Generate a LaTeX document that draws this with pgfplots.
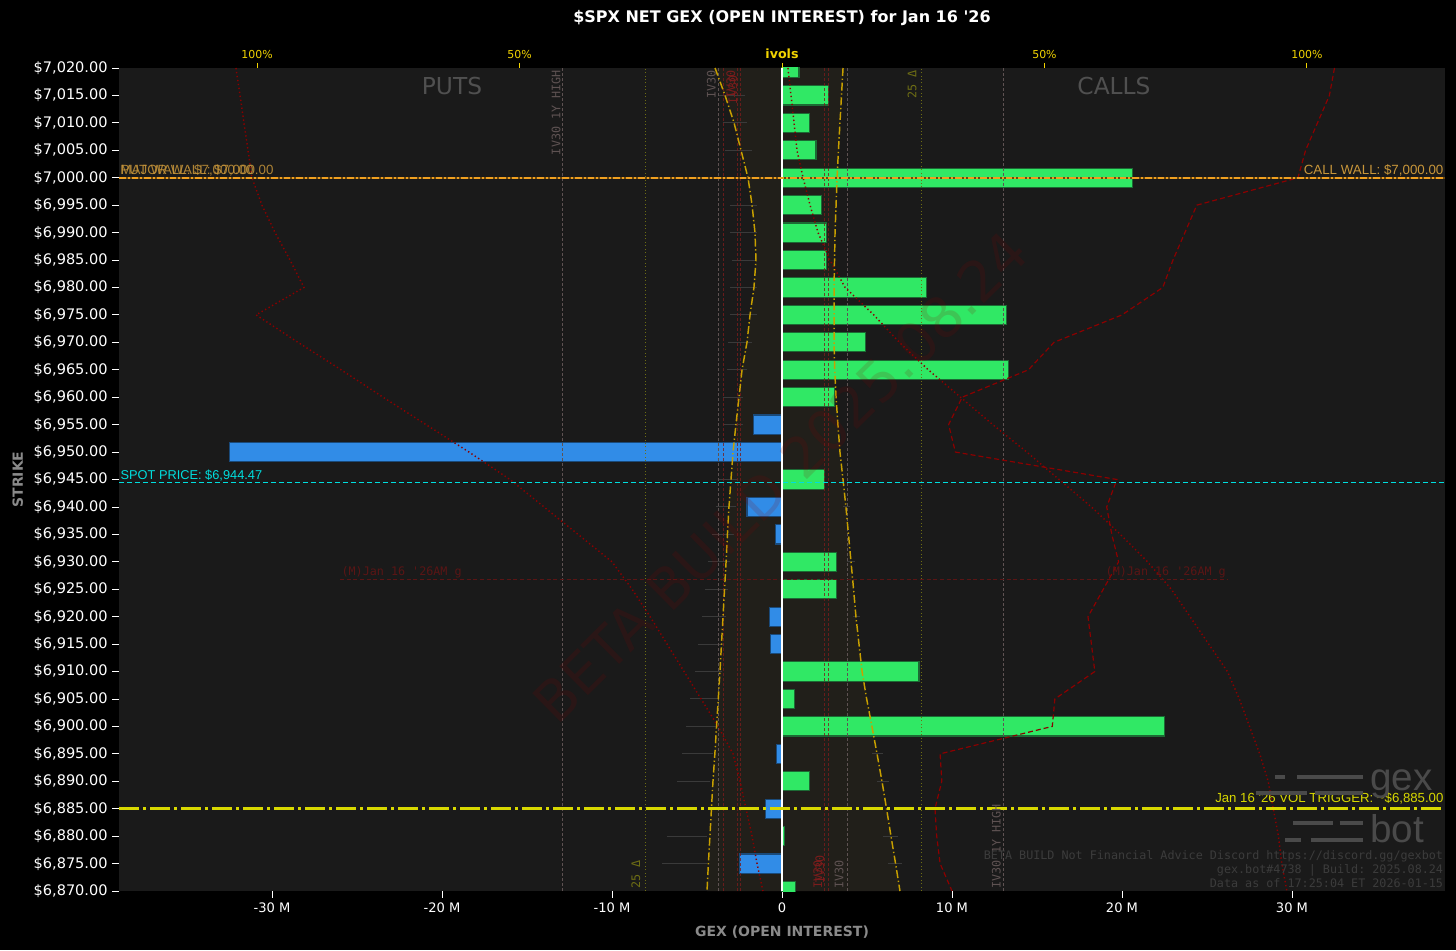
\documentclass[border=0pt]{standalone}
\usepackage{pgfplots}
\pgfplotsset{compat=1.18}
\usepackage{fontspec}
\setmainfont{DejaVu Sans}
\setmonofont{DejaVu Sans Mono}
\newfontfamily\arialfont{Liberation Sans}

\definecolor{plotbg}{HTML}{1A1A1A}
\definecolor{ivband}{HTML}{211F1A}
\definecolor{gexgreen}{HTML}{30E865}
\definecolor{greenedge}{HTML}{1C6A34}
\definecolor{gexblue}{HTML}{318CE7}
\definecolor{blueedge}{HTML}{1A4A7A}
\definecolor{wallorange}{HTML}{F0A020}
\definecolor{walltext}{HTML}{C8963A}
\definecolor{spotcyan}{HTML}{00DEDE}
\definecolor{trigyellow}{HTML}{D8D800}
\definecolor{ivyellow}{HTML}{C8A000}
\definecolor{topyellow}{HTML}{F2D400}
\definecolor{pctred}{HTML}{8B0000}
\definecolor{ivred}{HTML}{7A1C1C}
\definecolor{ivgray}{HTML}{5E5252}
\definecolor{deltaolive}{HTML}{6E6E14}
\definecolor{labelgray}{HTML}{8A8A8A}
\definecolor{sidegray}{HTML}{505050}
\definecolor{footgray}{HTML}{3C3C3C}
\definecolor{logogray}{HTML}{4A4A4A}
\definecolor{markred}{HTML}{5A1515}
\definecolor{tickgray}{HTML}{3A3A3A}

\pgfplotsset{/pgf/number format/assume math mode=true}

\begin{document}
\begin{tikzpicture}
\fill[black] (0,0) rectangle (1092pt,712.5pt);

\begin{axis}[
  at={(89.25pt,44.25pt)}, anchor=south west,
  width=994.5pt, height=617.25pt, scale only axis,
  xmin=-39, xmax=39, ymin=6870, ymax=7020,
  axis background/.style={fill=plotbg},
  axis x line*=bottom, axis y line*=left,
  axis line style={draw=none},
  tick align=outside, major tick length=5pt,
  tick style={white, line width=0.6pt},
  unbounded coords=jump,
  xtick={-30,-20,...,30},
  xticklabels={-30 M,-20 M,-10 M,0,10 M,20 M,30 M},
  ytick={6870,6875,...,7020},
  yticklabel={\$\pgfmathprintnumber[fixed,fixed zerofill,precision=2,1000 sep={,}]{\tick}},
  xticklabel style={text=white, font=\fontsize{9.8}{11}\selectfont},
  yticklabel style={text=white, font=\fontsize{10.9}{12}\selectfont},
  xlabel={GEX (OPEN INTEREST)},
  xlabel style={at={(axis description cs:0.5,0)}, anchor=center, yshift=-30.75pt,
    text=labelgray, font=\bfseries\fontsize{10.5}{12}\selectfont},
  ylabel={STRIKE},
  ylabel style={at={(axis description cs:0,0.5)}, anchor=center, yshift=76pt,
    text=labelgray, font=\bfseries\fontsize{10.5}{12}\selectfont},
  title={\$SPX NET GEX (OPEN INTEREST) for Jan 16 \textquotesingle 26},
  title style={at={(axis description cs:0.5,1)}, anchor=center, yshift=31.5pt,
    text=white, font=\bfseries\fontsize{12}{14}\selectfont},
]

% ivol band between the two smile curves
\addplot[fill=ivband, draw=none] coordinates {
(-3.94,7020) (-3.35,7015) (-2.82,7010) (-2.41,7005) (-2.00,7000) (-1.76,6995)
(-1.59,6990) (-1.53,6985) (-1.65,6980) (-1.88,6975) (-2.06,6970) (-2.35,6965)
(-2.53,6960) (-2.71,6955) (-2.88,6950) (-3.00,6945) (-3.12,6940) (-3.21,6935)
(-3.29,6930) (-3.38,6925) (-3.47,6920) (-3.56,6915) (-3.65,6910) (-3.75,6905)
(-3.85,6900) (-3.95,6895) (-4.06,6890) (-4.15,6885) (-4.24,6880) (-4.33,6875)
(-4.41,6870)
(6.94,6870) (6.68,6875) (6.41,6880) (6.15,6885) (5.88,6890) (5.59,6895)
(5.29,6900) (4.98,6905) (4.71,6910) (4.53,6915) (4.35,6920) (4.21,6925)
(4.06,6930) (3.91,6935) (3.76,6940) (3.59,6945) (3.41,6950) (3.29,6955)
(3.18,6960) (3.10,6965) (3.06,6970) (3.06,6975) (3.06,6980) (3.09,6985)
(3.12,6990) (3.18,6995) (3.24,7000) (3.32,7005) (3.41,7010) (3.50,7015)
(3.59,7020)} -- cycle;

% per-strike ivol markers
\addplot[tickgray, line width=0.75pt] coordinates {
(-3.76,7015) (-2.18,7015) (nan,nan) (-3.47,7010) (-2.06,7010) (nan,nan)
(-3.35,7005) (-1.76,7005) (nan,nan) (-3.06,6995) (-1.47,6995) (nan,nan)
(-3.06,6990) (-1.47,6990) (nan,nan) (-2.94,6985) (-1.59,6985) (nan,nan)
(-3.06,6980) (-1.47,6980) (nan,nan) (-3.06,6975) (-1.47,6975) (nan,nan)
(-3.18,6970) (-1.76,6970) (nan,nan) (-3.24,6965) (-2.06,6965) (nan,nan)
(-3.47,6960) (-2.29,6960) (nan,nan) (-3.47,6955) (-2.29,6955) (nan,nan)
(-3.65,6950) (-2.47,6950) (nan,nan) (-3.76,6945) (-2.59,6945) (nan,nan)
(-3.88,6940) (-2.71,6940) (nan,nan) (-4.12,6935) (-2.82,6935) (nan,nan)
(-4.35,6930) (-3.06,6930) (nan,nan) (-4.53,6925) (-3.18,6925) (nan,nan)
(-4.71,6920) (-3.29,6920) (nan,nan) (-4.94,6915) (-3.41,6915) (nan,nan)
(-5.12,6910) (-3.53,6910) (nan,nan) (-5.41,6905) (-3.76,6905) (nan,nan)
(-5.65,6900) (-3.88,6900) (nan,nan) (-5.88,6895) (-4.06,6895) (nan,nan)
(-6.18,6890) (-4.24,6890) (nan,nan) (-6.76,6880) (-4.41,6880) (nan,nan)
(-7.06,6875) (-4.41,6875) (nan,nan)
(3.60,6940) (4.00,6940) (nan,nan) (3.85,6930) (4.30,6930) (nan,nan)
(4.15,6920) (4.60,6920) (nan,nan) (4.50,6910) (5.00,6910) (nan,nan)
(5.00,6900) (5.60,6900) (nan,nan) (5.29,6895) (5.94,6895) (nan,nan)
(5.59,6890) (6.29,6890) (nan,nan) (5.94,6880) (6.82,6880) (nan,nan)
(6.24,6875) (7.06,6875)};

% net gex bars
\addplot[xbar, bar width=3.5, bar shift=0pt, fill=gexgreen, draw=greenedge, line width=0.8pt] coordinates {
(1.0,7020) (2.76,7015) (1.6,7010) (2.0,7005) (20.6,7000) (2.3,6995) (2.6,6990)
(2.6,6985) (8.5,6980) (13.2,6975) (4.9,6970) (13.35,6965) (3.1,6960) (2.5,6945)
(3.2,6930) (3.2,6925) (8.06,6910) (0.76,6905) (22.5,6900) (1.6,6890) (0.12,6880)
(0.8,6870)};
\addplot[xbar, bar width=3.5, bar shift=0pt, fill=gexblue, draw=blueedge, line width=0.8pt] coordinates {
(-1.65,6955) (-32.5,6950) (-2.06,6940) (-0.4,6935) (-0.76,6920) (-0.65,6915)
(-0.35,6895) (-0.95,6885) (-2.5,6875)};

% vertical reference lines
\addplot[ivgray, line width=0.75pt, dash pattern=on 2.25pt off 1.5pt] coordinates {(-12.9,6870) (-12.9,7020)};
\addplot[ivgray, line width=0.75pt, dash pattern=on 2.25pt off 1.5pt] coordinates {(13.0,6870) (13.0,7020)};
\addplot[ivgray, line width=0.75pt, dash pattern=on 2.25pt off 1.5pt] coordinates {(-3.76,6870) (-3.76,7020)};
\addplot[ivgray, line width=0.75pt, dash pattern=on 2.25pt off 1.5pt] coordinates {(3.85,6870) (3.85,7020)};
\addplot[ivred, opacity=0.8, line width=0.75pt, dash pattern=on 2.25pt off 1.5pt] coordinates {(-3.47,6870) (-3.47,7020)};
\addplot[ivred, opacity=0.8, line width=0.75pt, dash pattern=on 2.25pt off 1.5pt] coordinates {(-2.62,6870) (-2.62,7020)};
\addplot[ivred, opacity=0.8, line width=0.75pt, dash pattern=on 2.25pt off 1.5pt] coordinates {(-2.42,6870) (-2.42,7020)};
\addplot[ivred, opacity=0.8, line width=0.75pt, dash pattern=on 2.25pt off 1.5pt] coordinates {(2.50,6870) (2.50,7020)};
\addplot[ivred, opacity=0.8, line width=0.75pt, dash pattern=on 2.25pt off 1.5pt] coordinates {(2.75,6870) (2.75,7020)};
\addplot[deltaolive, line width=0.6pt, dotted] coordinates {(8.18,6870) (8.18,7020)};
\addplot[deltaolive, line width=0.6pt, dotted] coordinates {(-8.06,6870) (-8.06,7020)};

% percentage profiles
\addplot[pctred, line width=1.1pt, dash pattern=on 1pt off 2pt] coordinates {
(-32.12,7020) (-31.88,7015) (-31.65,7010) (-31.41,7005) (-31.18,7000) (-30.59,6995)
(-29.82,6990) (-28.94,6985) (-28.12,6980) (-30.94,6975) (-28.47,6970) (-25.94,6965)
(-23.47,6960) (-20.94,6955) (-18.41,6950) (-16.00,6945) (-14.00,6940) (-12.00,6935)
(-10.00,6930) (-8.82,6925) (-7.76,6920) (-6.76,6915) (-5.76,6910) (-4.76,6905)
(-3.76,6900) (-2.88,6895) (-2.47,6890) (-2.12,6885) (-1.76,6880) (-1.47,6875)
(-1.12,6870)};
\addplot[pctred, line width=1.1pt, dash pattern=on 1pt off 2pt] coordinates {
(0.35,7020) (0.53,7015) (0.71,7010) (0.88,7005) (1.24,7000) (1.65,6995) (2.12,6990)
(2.82,6985) (3.71,6980) (5.4,6975) (6.9,6970) (8.6,6965) (10.5,6960) (12.4,6955)
(14.4,6950) (16.3,6945) (18.2,6940) (19.9,6935) (21.5,6930) (22.9,6925) (24.0,6920)
(25.1,6915) (26.2,6910) (26.9,6905) (27.5,6900) (28.1,6895) (28.6,6890) (28.9,6885)
(29.2,6880) (29.4,6875) (29.7,6870)};
\addplot[pctred, line width=0.9pt, dash pattern=on 3.75pt off 2.25pt] coordinates {
(32.5,7020) (32.2,7015) (31.5,7010) (30.8,7005) (30.35,7000) (24.4,6995) (23.7,6990)
(23.0,6985) (22.4,6980) (20.0,6975) (16.0,6970) (14.5,6965) (10.6,6960) (9.8,6955)
(10.2,6950) (19.7,6945) (19.1,6940) (19.4,6935) (19.8,6930) (18.9,6925) (18.0,6920)
(18.2,6915) (18.4,6910) (16.05,6905) (15.9,6900) (9.3,6895) (9.4,6890) (9.0,6885)
(9.1,6880) (9.3,6875) (10.0,6870)};

% ivol smile curves
\addplot[ivyellow, line width=1.1pt, dash pattern=on 6pt off 2pt on 1pt off 2pt] coordinates {
(-3.94,7020) (-3.35,7015) (-2.82,7010) (-2.41,7005) (-2.00,7000) (-1.76,6995)
(-1.59,6990) (-1.53,6985) (-1.65,6980) (-1.88,6975) (-2.06,6970) (-2.35,6965)
(-2.53,6960) (-2.71,6955) (-2.88,6950) (-3.00,6945) (-3.12,6940) (-3.21,6935)
(-3.29,6930) (-3.38,6925) (-3.47,6920) (-3.56,6915) (-3.65,6910) (-3.75,6905)
(-3.85,6900) (-3.95,6895) (-4.06,6890) (-4.15,6885) (-4.24,6880) (-4.33,6875)
(-4.41,6870)};
\addplot[ivyellow, line width=1.1pt, dash pattern=on 6pt off 2pt on 1pt off 2pt] coordinates {
(3.59,7020) (3.50,7015) (3.41,7010) (3.32,7005) (3.24,7000) (3.18,6995)
(3.12,6990) (3.09,6985) (3.06,6980) (3.06,6975) (3.06,6970) (3.10,6965)
(3.18,6960) (3.29,6955) (3.41,6950) (3.59,6945) (3.76,6940) (3.91,6935)
(4.06,6930) (4.21,6925) (4.35,6920) (4.53,6915) (4.71,6910) (4.98,6905)
(5.29,6900) (5.59,6895) (5.88,6890) (6.15,6885) (6.41,6880) (6.68,6875)
(6.94,6870)};

% horizontal levels
\addplot[markred, line width=0.75pt, dash pattern=on 3pt off 2pt] coordinates {(-26.0,6926.75) (26.2,6926.75)};
\addplot[white, line width=1.4pt] coordinates {(0,6870) (0,7020)};
\addplot[wallorange!45!black, line width=1.2pt] coordinates {(-39,7000) (39,7000)};
\addplot[wallorange, line width=1.2pt, dash pattern=on 5pt off 1.5pt on 1.5pt off 1.5pt] coordinates {(-39,7000) (39,7000)};
\addplot[spotcyan, line width=0.9pt, dash pattern=on 3.75pt off 2.25pt] coordinates {(-39,6944.47) (39,6944.47)};
\addplot[trigyellow, line width=2.25pt, dash pattern=on 15pt off 3pt on 2.25pt off 3pt] coordinates {(-39,6885) (39,6885)};

% labels of the levels
\node[anchor=south west, inner sep=1pt, text=walltext, opacity=0.85, font=\arialfont\fontsize{10}{12}\selectfont] at (axis cs:-39,7000) {MAJOR WALL: \$7,000.00};
\node[anchor=south west, inner sep=1pt, text=walltext, opacity=0.85, font=\arialfont\fontsize{10}{12}\selectfont] at (axis cs:-39,7000) {PUT WALL: \$7,000.00};
\node[anchor=south east, inner sep=1pt, text=walltext, font=\arialfont\fontsize{10}{12}\selectfont] at (axis cs:39,7000) {CALL WALL: \$7,000.00};
\node[anchor=south west, inner sep=1pt, text=spotcyan, font=\arialfont\fontsize{9.6}{12}\selectfont] at (axis cs:-39,6944.47) {SPOT PRICE: \$6,944.47};
\node[anchor=south east, inner sep=1pt, text=trigyellow, font=\arialfont\fontsize{9.9}{12}\selectfont] at (axis cs:39,6885.6) {Jan 16 \textquotesingle 26 VOL TRIGGER: \textasciitilde\$6,885.00};
\node[anchor=south west, inner sep=1pt, text=markred, font=\ttfamily\fontsize{8.8}{10}\selectfont] at (axis cs:-26.0,6926.75) {(M)Jan 16 \textquotesingle 26AM g};
\node[anchor=south east, inner sep=1pt, text=markred, font=\ttfamily\fontsize{8.8}{10}\selectfont] at (axis cs:26.2,6926.75) {(M)Jan 16 \textquotesingle 26AM g};

% labels of the vertical lines
\node[rotate=90, anchor=south east, inner sep=1.5pt, text=ivgray, font=\ttfamily\fontsize{8.8}{10}\selectfont] at (axis cs:-12.9,7020) {IV30 1Y HIGH};
\node[rotate=90, anchor=south west, inner sep=1.5pt, text=ivgray, font=\ttfamily\fontsize{8.8}{10}\selectfont] at (axis cs:13.0,6870) {IV30 1Y HIGH};
\node[rotate=90, anchor=south east, inner sep=1.5pt, text=ivgray, font=\ttfamily\fontsize{8.8}{10}\selectfont] at (axis cs:-3.76,7020) {IV30};
\node[rotate=90, anchor=south west, inner sep=1.5pt, text=ivgray, font=\ttfamily\fontsize{8.8}{10}\selectfont] at (axis cs:3.75,6870) {IV30};
\node[rotate=90, anchor=south east, inner sep=1.5pt, text=ivred, font=\ttfamily\fontsize{8.8}{10}\selectfont] at (axis cs:-2.62,7020) {IV30};
\node[rotate=90, anchor=south east, inner sep=1.5pt, text=ivred, font=\ttfamily\fontsize{8.8}{10}\selectfont] at (axis cs:-2.50,7019) {IV30};
\node[rotate=90, anchor=south west, inner sep=1.5pt, text=ivred, font=\ttfamily\fontsize{8.8}{10}\selectfont] at (axis cs:2.50,6870) {IV30};
\node[rotate=90, anchor=south west, inner sep=1.5pt, text=ivred, font=\ttfamily\fontsize{8.8}{10}\selectfont] at (axis cs:2.62,6871) {IV30};
\node[rotate=90, anchor=south east, inner sep=1.5pt, text=deltaolive, font=\ttfamily\fontsize{8.8}{10}\selectfont] at (axis cs:8.05,7020) {25 Δ};
\node[rotate=90, anchor=south west, inner sep=1.5pt, text=deltaolive, font=\ttfamily\fontsize{8.8}{10}\selectfont] at (axis cs:-8.2,6870) {25 Δ};

% side titles, watermark, logo, footer
\node[text=sidegray, font=\fontsize{17.5}{20}\selectfont] at (axis cs:-19.41,7016.7) {PUTS};
\node[text=sidegray, font=\fontsize{17.5}{20}\selectfont] at (axis cs:19.53,7016.7) {CALLS};
\node[rotate=44.7, text=pctred, opacity=0.15, font=\fontsize{42}{46}\selectfont] at (axis cs:-0.1,6945.4) {BETA BUILD 2025.08.24};

\draw[logogray, line width=3pt] (axis cs:29.0,6890.8) -- (axis cs:29.6,6890.8);
\draw[logogray, line width=3pt] (axis cs:30.3,6890.8) -- (axis cs:34.2,6890.8);
\draw[logogray, line width=3pt] (axis cs:27.9,6887.9) -- (axis cs:30.9,6887.9);
\draw[logogray, line width=3pt] (axis cs:31.35,6887.9) -- (axis cs:34.2,6887.9);
\draw[logogray, line width=3pt] (axis cs:30.06,6882.4) -- (axis cs:32.4,6882.4);
\draw[logogray, line width=3pt] (axis cs:32.8,6882.4) -- (axis cs:34.2,6882.4);
\draw[logogray, line width=3pt] (axis cs:29.6,6879.3) -- (axis cs:30.5,6879.3);
\draw[logogray, line width=3pt] (axis cs:31.1,6879.3) -- (axis cs:34.2,6879.3);
\node[anchor=base west, inner sep=0pt, text=logogray, font=\arialfont\fontsize{29}{30}\selectfont] at (axis cs:34.6,6888.4) {gex};
\node[anchor=base west, inner sep=0pt, text=logogray, font=\arialfont\fontsize{29}{30}\selectfont] at (axis cs:34.6,6878.9) {bot};

\node[anchor=east, align=right, inner sep=0pt, text=footgray, font=\ttfamily\fontsize{8.8}{10.5}\selectfont] at (axis cs:38.9,6874.0)
  {BETA BUILD Not Financial Advice Discord https://discord.gg/gexbot\\gex.bot\#4738 | Build: 2025.08.24\\Data as of 17:25:04 ET 2026-01-15};
\end{axis}

% top ivol axis
\begin{axis}[
  at={(89.25pt,44.25pt)}, anchor=south west,
  width=994.5pt, height=617.25pt, scale only axis,
  xmin=-126.3, xmax=126.3, ymin=0, ymax=1,
  axis x line*=top, hide y axis,
  axis line style={draw=none},
  tick align=outside, major tick length=3.75pt,
  tick style={topyellow, line width=0.7pt},
  xtick={-100,-50,0,50,100},
  xticklabels={100\%,50\%,{\bfseries\fontsize{9.5}{11}\selectfont ivols},50\%,100\%},
  xticklabel style={text=topyellow, font=\fontsize{8.2}{9}\selectfont},
]
\addplot[draw=none] coordinates {(0,0.5)};
\end{axis}

\pgfresetboundingbox
\useasboundingbox (0,0) rectangle (1092pt,712.5pt);
\end{tikzpicture}
\end{document}
